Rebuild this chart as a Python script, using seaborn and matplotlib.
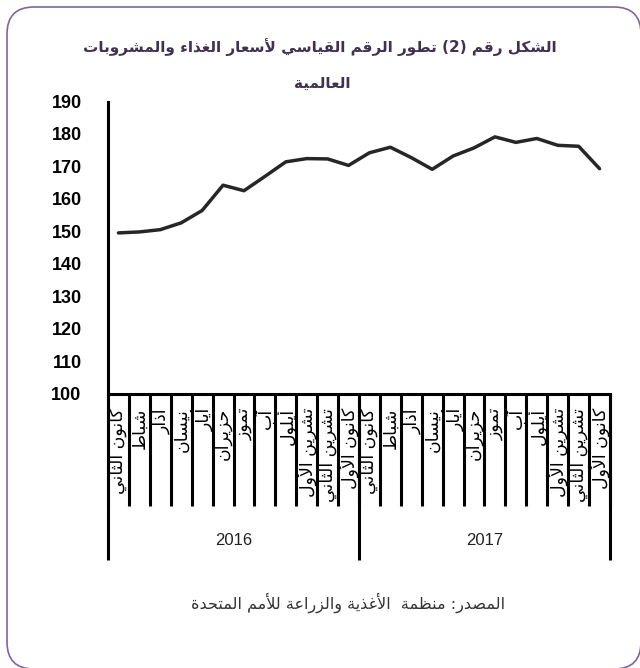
import numpy as np
import pandas as pd
import matplotlib
matplotlib.use("Agg")
import matplotlib.pyplot as plt
import seaborn as sns
from matplotlib.patches import FancyBboxPatch

# Data
months = ['كانون الثاني', 'شباط', 'آذار', 'نيسان', 'أيار', 'حزيران', 'تموز',
          'آب', 'أيلول', 'تشرين الأول', 'تشرين الثاني', 'كانون الأول']
years = ['2016', '2017']
index_values = [149.5, 149.8, 150.5, 152.6, 156.4, 164.2, 162.5, 166.9, 171.4, 172.4, 172.3, 170.3,
                174.2, 175.9, 172.7, 169.1, 173.2, 175.7, 179.1, 177.4, 178.6, 176.5, 176.2, 169.3]
y_ticks = [100, 110, 120, 130, 140, 150, 160, 170, 180, 190]

title_lines = ['الشكل رقم (2) تطور الرقم القياسي لأسعار الغذاء والمشروبات', 'العالمية']
source_text = 'المصدر: منظمة  الأغذية والزراعة للأمم المتحدة'

# --- minimal Arabic shaping (matplotlib has no bidi / shaping) ---
TWO = {'آ': 0xFE81, 'أ': 0xFE83, 'ؤ': 0xFE85, 'إ': 0xFE87, 'ا': 0xFE8D, 'ة': 0xFE93,
       'د': 0xFEA9, 'ذ': 0xFEAB, 'ر': 0xFEAD, 'ز': 0xFEAF, 'و': 0xFEED, 'ى': 0xFEEF}
FOUR = {'ئ': 0xFE89, 'ب': 0xFE8F, 'ت': 0xFE95, 'ث': 0xFE99, 'ج': 0xFE9D, 'ح': 0xFEA1,
        'خ': 0xFEA5, 'س': 0xFEB1, 'ش': 0xFEB5, 'ص': 0xFEB9, 'ض': 0xFEBD, 'ط': 0xFEC1,
        'ظ': 0xFEC5, 'ع': 0xFEC9, 'غ': 0xFECD, 'ف': 0xFED1, 'ق': 0xFED5, 'ك': 0xFED9,
        'ل': 0xFEDD, 'م': 0xFEE1, 'ن': 0xFEE5, 'ه': 0xFEE9, 'ي': 0xFEF1}
LAMALEF = {'آ': 0xFEF5, 'أ': 0xFEF7, 'إ': 0xFEF9, 'ا': 0xFEFB}


def shape(text):
    units = []
    i = 0
    while i < len(text):
        c = text[i]
        if c == 'ل' and i + 1 < len(text) and text[i + 1] in LAMALEF:
            units.append((LAMALEF[text[i + 1]], 2))
            i += 2
            continue
        if c in FOUR:
            units.append((FOUR[c], 4))
        elif c in TWO:
            units.append((TWO[c], 2))
        elif c == 'ء':
            units.append((0xFE80, 1))
        else:
            units.append((c, 0))
        i += 1
    out = []
    for k, (base, n) in enumerate(units):
        if n == 0:
            out.append(base)
            continue
        prev_ok = k > 0 and units[k - 1][1] == 4 and n >= 2
        next_ok = k < len(units) - 1 and n == 4 and units[k + 1][1] >= 2
        if prev_ok and next_ok:
            form = 3
        elif prev_ok:
            form = 1
        elif next_ok:
            form = 2
        else:
            form = 0
        out.append(chr(base + form))
    vis = ''.join(out)[::-1]
    return vis.translate(str.maketrans('()', ')('))


df = pd.DataFrame({
    'year': np.repeat(years, len(months)),
    'month': months * len(years),
    'value': index_values,
})
df['pos'] = np.arange(len(df))

sns.set_style('white')
plt.rcParams['font.family'] = ['DejaVu Sans']

fig = plt.figure(figsize=(6.4, 6.68), dpi=100)
ax = fig.add_axes([108 / 640, 1 - 393.5 / 668, 502 / 640, 292 / 668])

sns.lineplot(data=df, x='pos', y='value', ax=ax, color='#262626', linewidth=2.5,
             solid_joinstyle='round', solid_capstyle='round')

ax.set_xlim(-0.5, len(df) - 0.5)
ax.set_ylim(100, 190)
ax.set_yticks(y_ticks)
ax.set_yticklabels([str(t) for t in y_ticks], fontsize=13, fontweight='bold',
                   family='Liberation Sans')
ax.set_xticks(df['pos'])
ax.set_xticklabels([])
ax.tick_params(axis='y', direction='out', length=5, width=2.2, pad=14, colors='black')
ax.tick_params(axis='x', direction='out', length=5, width=2.2, colors='black')
ax.set_xlabel('')
ax.set_ylabel('')
for side in ['top', 'right']:
    ax.spines[side].set_visible(False)
for side in ['left', 'bottom']:
    ax.spines[side].set_linewidth(2.2)
    ax.spines[side].set_color('black')

xt = ax.get_xaxis_transform()
# month labels and category separators
for p, m in zip(df['pos'], df['month']):
    ax.text(p, -0.05, shape(m), transform=xt, rotation=90, ha='center', va='top',
            fontsize=12.5, color='black')
ax.vlines(np.arange(len(df) + 1) - 0.5, -0.384, 0, transform=xt, clip_on=False,
          color='black', linewidth=2.2)
# year level
n = len(months)
year_edges = [-0.5 + n * k for k in range(len(years) + 1)]
ax.vlines(year_edges, -0.57, 0, transform=xt, clip_on=False, color='black', linewidth=2.2)
for k, y in enumerate(years):
    ax.text(n * k + (n - 1) / 2, -0.502, y, transform=xt, ha='center', va='center',
            fontsize=12, family='Liberation Sans', color='#222222')

# titles and source
fig.text(320 / 640, 1 - 47 / 668, shape(title_lines[0]), ha='center', va='center',
         fontsize=11, fontweight='bold', color='#403152')
fig.text(322 / 640, 1 - 83 / 668, shape(title_lines[1]), ha='center', va='center',
         fontsize=11, fontweight='bold', color='#403152')
fig.text(348 / 640, 1 - 603 / 668, shape(source_text), ha='center', va='center',
         fontsize=11.5, color='#333333')

# rounded frame
frame = FancyBboxPatch((0.07, -0.01), 6.34, 6.62, boxstyle='round,pad=0,rounding_size=0.27',
                       transform=fig.dpi_scale_trans, facecolor='none', edgecolor='#8064A2',
                       linewidth=1.2)
fig.patches.append(frame)

fig.savefig('out.png', dpi=100, facecolor='white')
